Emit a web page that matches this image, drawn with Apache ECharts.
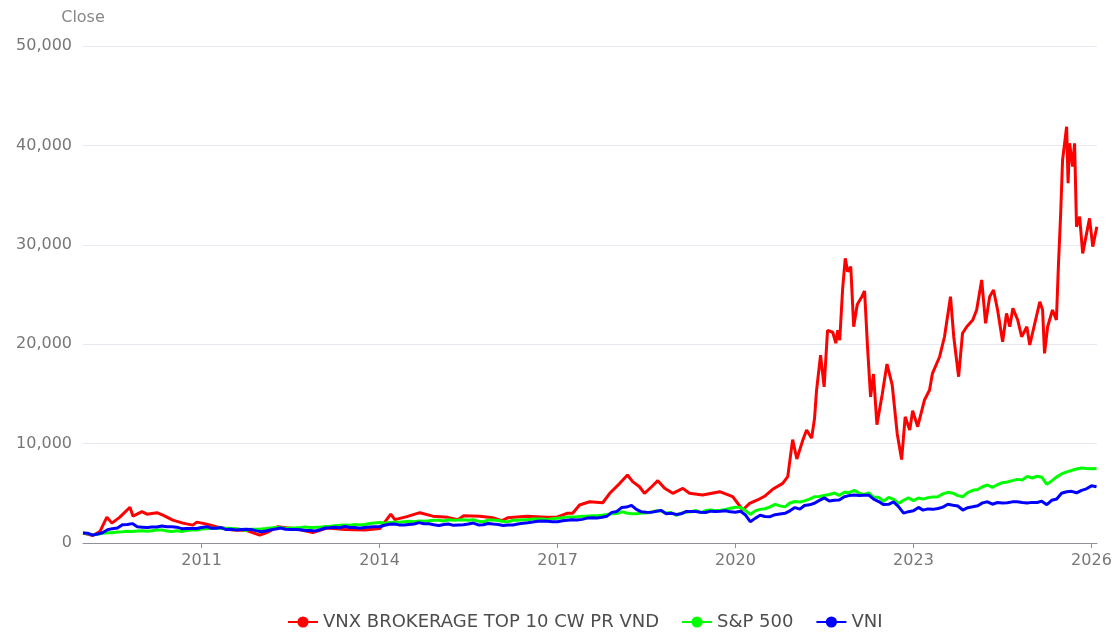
<!DOCTYPE html>
<html>
<head>
<meta charset="utf-8">
<script src="https://cdn.jsdelivr.net/npm/echarts@6/dist/echarts.min.js"></script>
<style>
html,body{margin:0;padding:0;background:#fff;}
#c{width:1115px;height:633px;}
</style>
</head>
<body>
<div id="c"></div>
<script>
// ---- data ----
const seriesNames = ['VNX BROKERAGE TOP 10 CW PR VND', 'S&P 500', 'VNI'];
const tickYears = ['2011', '2014', '2017', '2020', '2023', '2026'];
const yTicks = [0, 10000, 20000, 30000, 40000, 50000];

// red series traced points
const redDates = [
'2009-01-01','2009-03-03','2009-04-15','2009-05-28','2009-06-28','2009-08-16','2009-10-17','2009-11-05','2009-12-30',
'2010-01-30','2010-04-01','2010-05-08','2010-07-08','2010-09-08','2010-11-08','2010-12-03',
'2011-02-02','2011-04-23','2011-07-12','2011-10-06','2011-12-25',
'2012-02-07','2012-04-15','2012-08-10','2012-11-16',
'2013-02-11','2013-06-02','2013-10-03',
'2014-01-03','2014-03-11','2014-04-05','2014-06-18','2014-09-06','2014-11-24',
'2015-02-25','2015-04-27','2015-06-03','2015-09-10','2015-11-28',
'2016-01-23','2016-02-28','2016-06-25','2016-10-26','2016-12-27',
'2017-03-03','2017-04-04','2017-05-16','2017-07-17','2017-10-06','2017-11-18',
'2018-01-19','2018-03-07','2018-04-08','2018-05-20','2018-06-20','2018-08-03','2018-09-10','2018-10-22','2018-12-11',
'2019-02-11','2019-03-24','2019-06-13','2019-09-26','2019-12-15',
'2020-02-15','2020-03-28','2020-05-16','2020-06-28','2020-08-17','2020-10-18','2020-11-18','2020-12-18',
'2021-01-13','2021-02-19','2021-03-14','2021-04-14','2021-05-02','2021-05-14','2021-06-08','2021-06-30','2021-07-21',
'2021-08-22','2021-09-10','2021-09-22','2021-10-04','2021-10-22','2021-11-07','2021-11-22','2021-12-11','2021-12-29',
'2022-01-20','2022-02-17','2022-03-06','2022-03-24','2022-04-12','2022-04-30','2022-05-21','2022-06-22','2022-07-22',
'2022-08-23','2022-09-23','2022-10-20','2022-11-11','2022-12-09','2022-12-27',
'2023-01-27','2023-03-10','2023-04-10','2023-04-28','2023-06-11','2023-07-11','2023-08-17','2023-09-06','2023-10-06',
'2023-10-30','2023-11-25',
'2024-01-01','2024-01-25','2024-02-25','2024-03-20','2024-04-14','2024-05-08','2024-06-02','2024-07-03','2024-07-27',
'2024-08-16','2024-09-04','2024-10-04','2024-10-28','2024-11-29','2024-12-17',
'2025-01-17','2025-02-17','2025-03-06','2025-03-18','2025-04-06','2025-05-06','2025-05-30','2025-06-12','2025-06-25',
'2025-07-07','2025-08-01','2025-08-10','2025-08-19','2025-09-07','2025-09-19','2025-10-01','2025-10-20','2025-11-08',
'2025-12-02','2025-12-20','2026-01-09','2026-02-03'
];
const redValues = [
1000,750,1150,2600,2000,2600,3600,2700,3150,
2900,3050,2800,2300,2000,1800,2100,
1900,1550,1300,1250,800,
1050,1640,1400,1050,
1500,1350,1300,
1450,2900,2350,2650,3050,2700,
2580,2350,2750,2700,2550,
2240,2530,2700,2580,2600,
2990,3000,3820,4150,4050,5000,
6000,6840,6170,5660,5000,5660,6270,5500,5000,
5500,5000,4830,5160,4660,
3320,3990,4330,4700,5400,6000,6670,10400,
8450,10360,11370,10550,12540,15300,18900,15700,21400,
21200,20100,21400,20400,25600,28640,27300,27800,21760,
24000,24780,25350,19750,14700,17000,11900,14900,18000,
15900,11000,8400,12700,11370,13300,
11700,14390,15390,17070,18740,20750,24780,20750,16730,
21100,21760,
22430,23440,26460,22100,24780,25450,23440,20250,23100,
21760,23610,22430,20750,21760,19920,
22100,24270,23440,19080,21760,23440,22430,28140,33000,
38530,41880,36200,40210,37860,40210,31820,32830,29140,
31150,32660,29810,31820
];

// monthly values, Jan 2009 .. Feb 2026
const sp500Values = [
1000,918,817,887,970,1021,1021,1097,1134,1174,1151,1218,
1239,1193,1227,1299,1319,1210,1146,1224,1166,1268,1314,1312,
1398,1429,1474,1473,1516,1494,1468,1436,1354,1257,1392,1386,
1398,1458,1518,1564,1553,1456,1513,1532,1563,1601,1569,1573,
1584,1664,1683,1743,1776,1812,1784,1873,1814,1869,1952,2007,
2053,1981,2066,2080,2093,2138,2178,2146,2226,2191,2242,2298,
2288,2217,2339,2298,2318,2341,2292,2338,2191,2133,2310,2311,
2271,2156,2147,2289,2294,2330,2332,2416,2412,2409,2362,2443,
2488,2532,2627,2626,2649,2680,2692,2744,2747,2799,2861,2942,
2971,3138,3016,2934,2942,3006,3020,3129,3224,3238,3013,3067,
2786,3004,3093,3149,3273,3058,3269,3311,3251,3308,3376,3490,
3590,3584,3282,2872,3236,3382,3444,3634,3889,3737,3633,4024,
4173,4127,4234,4414,4646,4671,4776,4883,5026,4787,5117,5074,
5296,5018,4860,5033,4591,4591,4206,4589,4394,3984,4302,4533,
4267,4530,4411,4566,4632,4644,4944,5099,5009,4764,4660,5076,
5300,5384,5662,5838,5596,5864,6067,6136,6276,6402,6339,6702,
6536,6712,6617,5900,6250,6650,6950,7150,7300,7450,7550,7500,
7480,7500
];
const vniValues = [
1000,977,790,903,1035,1329,1445,1506,1835,1871,1950,1626,
1594,1555,1603,1606,1710,1639,1635,1594,1445,1465,1458,1465,
1561,1642,1494,1487,1548,1348,1394,1319,1355,1377,1352,1242,
1132,1203,1323,1410,1516,1390,1361,1355,1323,1265,1252,1219,
1335,1510,1532,1584,1532,1668,1552,1571,1490,1565,1606,1629,
1629,1784,1890,1906,1823,1806,1865,1913,2052,1935,1945,1835,
1761,1855,1910,1777,1813,1835,1910,2003,1819,1832,1961,1903,
1868,1758,1806,1810,1906,1987,2039,2103,2194,2210,2190,2148,
2145,2242,2290,2329,2313,2377,2503,2529,2526,2594,2700,3081,
3174,3581,3616,3787,3387,3132,3097,3081,3190,3281,2948,2987,
2877,2935,3158,3161,3158,3097,3065,3206,3177,3206,3252,3132,
3100,3197,2845,2139,2477,2787,2661,2645,2845,2919,2984,3235,
3561,3406,3771,3842,3997,4284,4542,4226,4294,4329,4658,4768,
4832,4768,4806,4813,4410,4168,3861,3890,4129,3652,3000,3150,
3248,3584,3306,3432,3384,3468,3613,3894,3806,3723,3316,3555,
3645,3755,4039,4145,3903,4071,4016,4052,4139,4155,4077,4032,
4087,4074,4210,3850,4297,4423,5000,5150,5200,5050,5300,5450,
5750,5650
];

// monthly date categories
const monthDates = [];
for (let y = 2009; y <= 2026; y++) {
  for (let m = 1; m <= 12; m++) {
    if (y === 2026 && m > 2) break;
    monthDates.push(y + '-' + String(m).padStart(2, '0') + '-01');
  }
}

function ts(s) {
  const p = s.split('-').map(Number);
  return new Date(p[0], (p[1] || 1) - 1, p[2] || 1).getTime();
}

const colors = ['#ff0000', '#00ff00', '#0000ff'];
const tickValues = tickYears.map(y => ts(y + '-01-01'));
const FONT = 'DejaVu Sans';

const chart = echarts.init(document.getElementById('c'), null, {renderer: 'canvas'});
chart.setOption({
  animation: false,
  color: colors,
  textStyle: {fontFamily: FONT},
  grid: {left: 83, right: 18, top: 46, bottom: 90, containLabel: false},
  legend: {
    bottom: -3,
    left: 282,
    itemWidth: 30,
    itemHeight: 14,
    itemGap: 22,
    textStyle: {fontSize: 18, color: '#4d4d4d', fontFamily: FONT},
    data: seriesNames
  },
  xAxis: {
    type: 'value',
    min: ts('2009-01-01'),
    max: ts('2026-02-04'),
    axisLine: {show: true, onZero: false, lineStyle: {color: '#8f929a'}},
    axisTick: {show: true, customValues: tickValues, length: 5, lineStyle: {color: '#8f929a'}},
    axisLabel: {
      customValues: tickValues,
      fontSize: 16,
      color: '#777',
      margin: 10,
      fontFamily: FONT,
      formatter: v => String(new Date(v).getFullYear())
    },
    splitLine: {show: false}
  },
  yAxis: {
    type: 'value',
    name: 'Close',
    nameGap: 20,
    nameTextStyle: {fontSize: 16, color: '#888', fontFamily: FONT},
    min: yTicks[0],
    max: yTicks[yTicks.length - 1],
    interval: yTicks[1] - yTicks[0],
    axisLine: {show: false},
    axisTick: {show: false},
    axisLabel: {
      fontSize: 16, color: '#777', margin: 11, fontFamily: FONT,
      formatter: v => v.toLocaleString('en-US')
    },
    splitLine: {lineStyle: {color: '#e6e9f2'}}
  },
  series: [
    {
      name: seriesNames[0], type: 'line', symbol: 'circle', showSymbol: false,
      lineStyle: {width: 3, color: colors[0]},
      data: redDates.map((d, i) => [ts(d), redValues[i]])
    },
    {
      name: seriesNames[1], type: 'line', symbol: 'circle', showSymbol: false,
      lineStyle: {width: 3, color: colors[1]},
      data: monthDates.map((d, i) => [ts(d), sp500Values[i]])
    },
    {
      name: seriesNames[2], type: 'line', symbol: 'circle', showSymbol: false,
      lineStyle: {width: 3, color: colors[2]},
      data: monthDates.map((d, i) => [ts(d), vniValues[i]])
    }
  ]
});
</script>
</body>
</html>
